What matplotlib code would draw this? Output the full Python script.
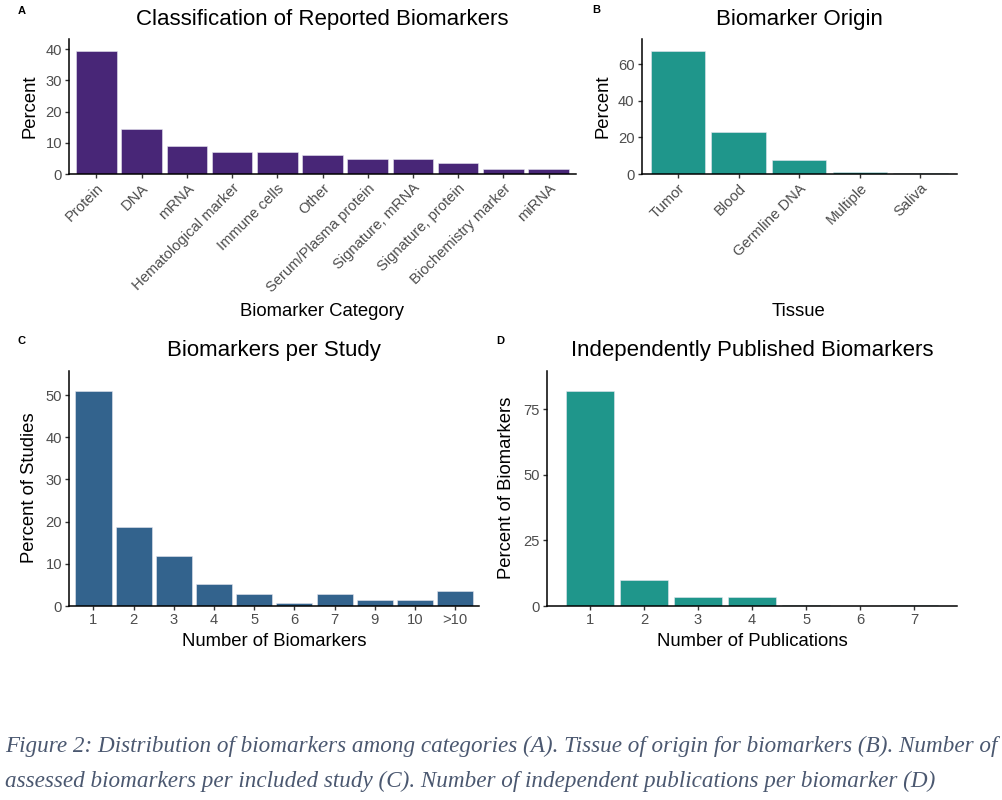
import matplotlib
matplotlib.use('Agg')
import matplotlib.pyplot as plt

plt.rcParams['font.family'] = ['Liberation Sans', 'DejaVu Sans']

# panel A
categories = ['Protein', 'DNA', 'mRNA', 'Hematological marker', 'Immune cells', 'Other',
              'Serum/Plasma protein', 'Signature, mRNA', 'Signature, protein',
              'Biochemistry marker', 'miRNA']
category_pct = [39.3, 14.5, 9.0, 7.2, 7.2, 6.0, 4.8, 4.7, 3.4, 1.7, 1.7]

# panel B
tissues = ['Tumor', 'Blood', 'Germline DNA', 'Multiple', 'Saliva']
tissue_pct = [67.0, 22.9, 7.7, 1.1, 0.4]

# panel C
n_biomarkers = ['1', '2', '3', '4', '5', '6', '7', '9', '10', '>10']
study_pct = [50.9, 18.7, 11.9, 5.2, 2.9, 0.7, 2.9, 1.4, 1.4, 3.6]

# panel D
n_publications = [1, 2, 3, 4, 5, 6, 7]
pub_pct = [81.7, 9.9, 3.3, 3.3, 0.5, 0.0, 0.5]

caption_1 = ('Figure 2: Distribution of biomarkers among categories (A). Tissue of origin for '
             'biomarkers (B). Number of')
caption_2 = ('assessed biomarkers per included study (C). Number of independent publications '
             'per biomarker (D)')

W, H = 1003, 800
fig = plt.figure(figsize=(W / 100, H / 100), dpi=100)

def add_ax(l, t, r, b):
    return fig.add_axes([l / W, 1 - b / H, (r - l) / W, (b - t) / H])

def fx(x):
    return x / W

def fy(y):
    return 1 - y / H

def style(ax):
    for s in ['top', 'right']:
        ax.spines[s].set_visible(False)
    for s in ['left', 'bottom']:
        ax.spines[s].set_linewidth(1.1)
        ax.spines[s].set_color('black')
    ax.tick_params(length=2.9, width=1.0, color='#333333', labelcolor='#4D4D4D',
                   labelsize=10.6, pad=2.2)

title_kw = dict(fontsize=16, pad=10.5)
lab_size = 13.3
bar_kw = dict(width=0.9, edgecolor='#E6E6F0', linewidth=0.4)

# A
axA = add_ax(69.3, 39.3, 575.7, 174)
axA.bar(range(len(categories)), category_pct, color='#482677', **bar_kw)
axA.set_xlim(-0.6, len(categories) - 0.4)
axA.set_ylim(0, 43.2)
axA.set_yticks([0, 10, 20, 30, 40])
axA.set_xticks(range(len(categories)))
axA.set_xticklabels(categories, rotation=45, ha='right', va='top', rotation_mode='anchor')
style(axA)
axA.set_title('Classification of Reported Biomarkers', **title_kw)
fig.text(fx(322.5), fy(316), 'Biomarker Category', ha='center', va='baseline', fontsize=lab_size)
fig.text(fx(30), fy(106.5), 'Percent', ha='center', va='center', rotation=90, fontsize=lab_size)

# B
axB = add_ax(641.7, 39.3, 956.7, 174)
axB.bar(range(len(tissues)), tissue_pct, color='#1F968B', **bar_kw)
axB.set_xlim(-0.6, len(tissues) - 0.4)
axB.set_ylim(0, 73.5)
axB.set_yticks([0, 20, 40, 60])
axB.set_xticks(range(len(tissues)))
axB.set_xticklabels(tissues, rotation=45, ha='right', va='top', rotation_mode='anchor')
style(axB)
axB.set_title('Biomarker Origin', **title_kw)
fig.text(fx(799), fy(316), 'Tissue', ha='center', va='baseline', fontsize=lab_size)
fig.text(fx(603), fy(106.5), 'Percent', ha='center', va='center', rotation=90, fontsize=lab_size)

# C
axC = add_ax(69.3, 370.7, 479.3, 606)
axC.bar(range(len(n_biomarkers)), study_pct, color='#33638D', **bar_kw)
axC.set_xlim(-0.6, len(n_biomarkers) - 0.4)
axC.set_ylim(0, 55.8)
axC.set_yticks([0, 10, 20, 30, 40, 50])
axC.set_xticks(range(len(n_biomarkers)))
axC.set_xticklabels(n_biomarkers)
style(axC)
axC.set_title('Biomarkers per Study', **title_kw)
fig.text(fx(274.3), fy(646), 'Number of Biomarkers', ha='center', va='baseline', fontsize=lab_size)
fig.text(fx(30), fy(488), 'Percent of Studies', ha='center', va='center', rotation=90,
         fontsize=lab_size)

# D
axD = add_ax(546.7, 370.7, 957.3, 606)
axD.bar(n_publications, pub_pct, color='#1F968B', **bar_kw)
axD.set_xlim(0.2, 7.8)
axD.set_ylim(0, 89.6)
axD.set_yticks([0, 25, 50, 75])
axD.set_xticks(n_publications)
style(axD)
axD.set_title('Independently Published Biomarkers', **title_kw)
fig.text(fx(752), fy(646), 'Number of Publications', ha='center', va='baseline', fontsize=lab_size)
fig.text(fx(507), fy(488), 'Percent of Biomarkers', ha='center', va='center', rotation=90,
         fontsize=lab_size)

# panel letters
for letter, x, y in [('A', 18, 14), ('B', 592, 13), ('C', 18, 344), ('D', 496, 344)]:
    fig.text(fx(x), fy(y), letter, fontsize=8, fontweight='bold', va='baseline')

# caption
cap_kw = dict(fontsize=16.65, style='italic', color='#4B5870', va='baseline',
              family=['Liberation Serif', 'DejaVu Serif'])
fig.text(fx(5), fy(752), caption_1, **cap_kw)
fig.text(fx(5), fy(787), caption_2, **cap_kw)

fig.savefig('out.png', dpi=100)
